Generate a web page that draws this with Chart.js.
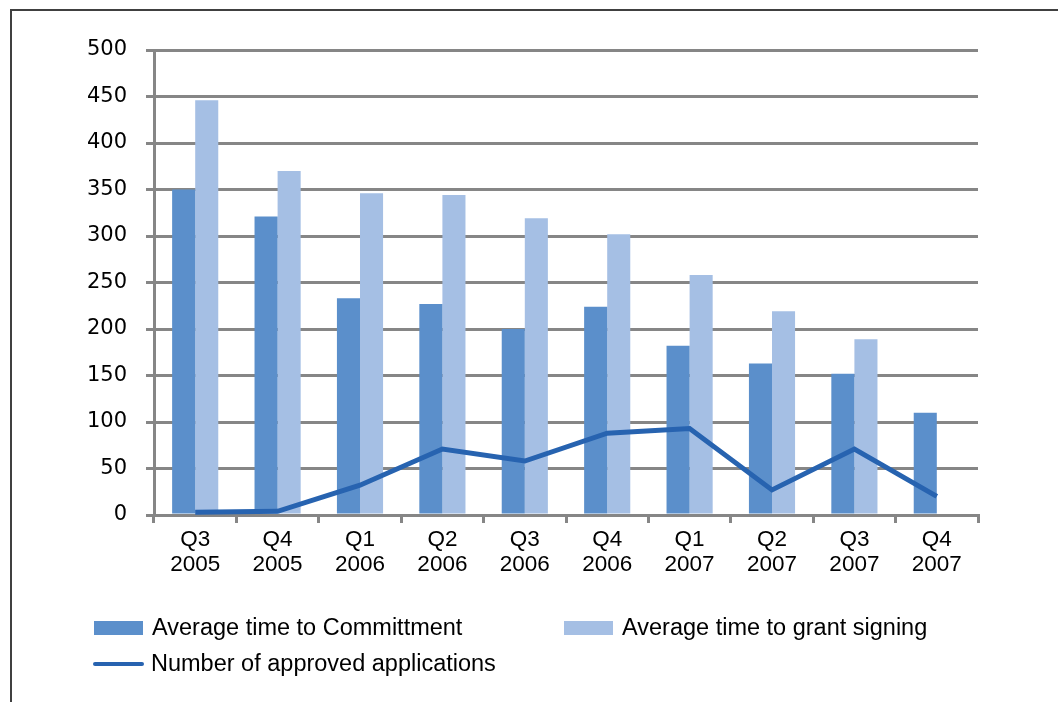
<!DOCTYPE html>
<html>
<head>
<meta charset="utf-8">
<script src="https://cdn.jsdelivr.net/npm/chart.js@4"></script>
<style>
  html, body { margin: 0; padding: 0; background: #fff; }
  #wrap { position: relative; width: 1058px; height: 702px; overflow: hidden; }
  #frame { position: absolute; left: 10px; top: 9px; width: 1100px; height: 800px;
           border-left: 2px solid #404040; border-top: 2px solid #404040; }
  canvas { position: absolute; left: 0; top: 0; }
  .lg { position: absolute; font-family: "Liberation Sans", Arial, sans-serif; font-size: 23.5px;
        color: #000; white-space: nowrap; line-height: 26px; }
  .sw { position: absolute; }
</style>
</head>
<body>
<div id="wrap">
  <div id="frame"></div>
  <canvas id="chart" width="1058" height="702"></canvas>
  <div id="legend"></div>
</div>
<script>
/* ---- data ---- */
const quarters = [
  ['Q3', '2005'], ['Q4', '2005'], ['Q1', '2006'], ['Q2', '2006'], ['Q3', '2006'],
  ['Q4', '2006'], ['Q1', '2007'], ['Q2', '2007'], ['Q3', '2007'], ['Q4', '2007'],
];
const timeToCommitment = [350, 321, 233, 227, 200, 224, 182, 163, 152, 110];
const timeToSigning = [446, 370, 346, 344, 319, 302, 258, 219, 189, null];
const approvedApps = [3, 4, 32, 71, 58, 88, 93, 27, 71, 20];
const yTicks = [0, 50, 100, 150, 200, 250, 300, 350, 400, 450, 500];

const DARK = '#5b8fcb';
const LIGHT = '#a5bfe4';
const LINE = '#2763b0';
const GRID = '#868686';

new Chart(document.getElementById('chart'), {
  type: 'bar',
  data: {
    labels: quarters,
    datasets: [
      {
        label: 'Average time to Committment',
        data: timeToCommitment,
        backgroundColor: DARK,
        borderWidth: 0,
        order: 1,
      },
      {
        label: 'Average time to grant signing',
        data: timeToSigning,
        backgroundColor: LIGHT,
        borderWidth: 0,
        order: 1,
      },
      {
        type: 'line',
        label: 'Number of approved applications',
        data: approvedApps,
        borderColor: LINE,
        borderWidth: 5,
        pointRadius: 0,
        tension: 0,
        fill: false,
        order: 0,
      },
    ],
  },
  options: {
    responsive: false,
    animation: false,
    datasets: { bar: { categoryPercentage: 0.56, barPercentage: 1 } },
    layout: { padding: { top: 50, right: 80, left: 0, bottom: 0 } },
    plugins: { legend: { display: false }, tooltip: { enabled: false } },
    scales: {
      x: {
        afterFit: s => { s.height = 187; },
        grid: { offset: true, drawOnChartArea: false, drawTicks: true, tickLength: 8, color: GRID, lineWidth: 3 },
        border: { color: GRID, width: 3 },
        ticks: {
          color: '#000', padding: 5, maxRotation: 0,
          font: { family: '"Liberation Sans", Arial, sans-serif', size: 22.5, lineHeight: 1.08 },
        },
      },
      y: {
        min: 0,
        max: 500,
        afterFit: s => { s.width = 154; },
        afterBuildTicks: s => { s.ticks = yTicks.map(v => ({ value: v })); },
        grid: { color: GRID, lineWidth: 3, tickLength: 8 },
        border: { color: GRID, width: 3 },
        ticks: {
          color: '#000', padding: 19,
          font: { family: '"DejaVu Sans", sans-serif', size: 21 },
        },
      },
    },
  },
});

/* ---- legend (two columns, like the original) ---- */
const legendItems = [
  { text: 'Average time to Committment', kind: 'box', color: DARK, x: 94, y: 628 },
  { text: 'Average time to grant signing', kind: 'box', color: LIGHT, x: 564, y: 628 },
  { text: 'Number of approved applications', kind: 'line', color: LINE, x: 93, y: 664 },
];
const legend = document.getElementById('legend');
legendItems.forEach(it => {
  const sw = document.createElement('div');
  sw.className = 'sw';
  sw.style.left = it.x + 'px';
  sw.style.background = it.color;
  if (it.kind === 'box') {
    sw.style.top = (it.y - 7) + 'px'; sw.style.width = '49px'; sw.style.height = '14px';
  } else {
    sw.style.top = (it.y - 2) + 'px'; sw.style.width = '51px'; sw.style.height = '4px';
    sw.style.borderRadius = '2px';
  }
  legend.appendChild(sw);
  const tx = document.createElement('div');
  tx.className = 'lg';
  tx.textContent = it.text;
  tx.style.left = (it.x + 58) + 'px';
  tx.style.top = (it.y - 14) + 'px';
  legend.appendChild(tx);
});
</script>
</body>
</html>
